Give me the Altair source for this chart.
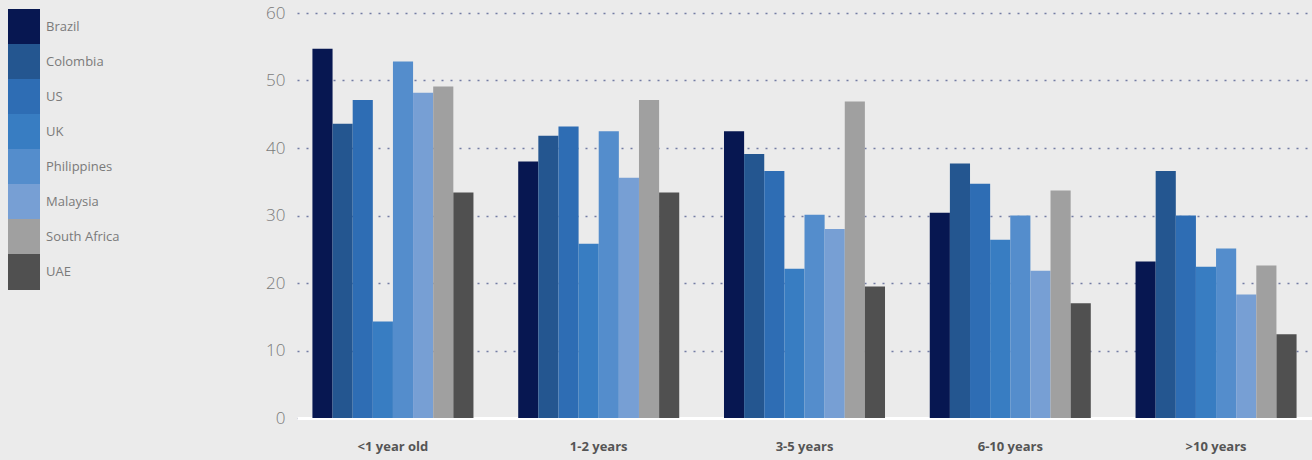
import altair as alt
import pandas as pd

# Age bands and countries
ages = ["<1 year old", "1-2 years", "3-5 years", "6-10 years", ">10 years"]
countries = ["Brazil", "Colombia", "US", "UK", "Philippines", "Malaysia", "South Africa", "UAE"]
colors = ["#071751", "#245690", "#2e6db4", "#387dc2", "#548dcc", "#779fd4", "#a0a0a0", "#505050"]

# Percentages per country, one list per age band (order follows `countries`)
lt1 = [54.7, 43.6, 47.1, 14.3, 52.8, 48.2, 49.1, 33.4]
y1_2 = [38.0, 41.8, 43.2, 25.8, 42.5, 35.6, 47.1, 33.4]
y3_5 = [42.5, 39.1, 36.6, 22.1, 30.1, 28.0, 46.9, 19.5]
y6_10 = [30.4, 37.7, 34.7, 26.4, 30.0, 21.8, 33.7, 17.0]
gt10 = [23.2, 36.6, 30.0, 22.4, 25.1, 18.3, 22.6, 12.4]

series = [lt1, y1_2, y3_5, y6_10, gt10]
rows = []
for age, vals in zip(ages, series):
    for c, v in zip(countries, vals):
        rows.append({"age": age, "country": c, "value": v})
df = pd.DataFrame(rows)

bars = alt.Chart(df).mark_bar(opacity=1).encode(
    x=alt.X(
        "age:N",
        sort=ages,
        title=None,
        scale=alt.Scale(paddingInner=0.2175, paddingOuter=0.075),
        axis=alt.Axis(
            labelAngle=0,
            labelFont="Open Sans",
            labelFontWeight="bold",
            labelFontSize=13,
            labelColor="#555555",
            labelPadding=22,
            ticks=False,
            domain=True,
            domainColor="#ffffff",
            domainWidth=3,
            grid=False,
        ),
    ),
    xOffset=alt.XOffset(
        "country:N", sort=countries, scale=alt.Scale(paddingInner=0, paddingOuter=0)
    ),
    y=alt.Y(
        "value:Q",
        title=None,
        scale=alt.Scale(domain=[0, 60], nice=False, zero=True),
        axis=alt.Axis(
            values=[0, 10, 20, 30, 40, 50, 60],
            labelFont="Open Sans",
            labelFontWeight=300,
            labelFontSize=17,
            labelColor="#7a7a7a",
            labelPadding=12,
            ticks=False,
            domain=False,
            grid=True,
            gridColor="#737ca3",
            gridDash=[2, 7],
            gridWidth=1.5,
        ),
    ),
    color=alt.Color(
        "country:N",
        sort=countries,
        scale=alt.Scale(domain=countries, range=colors),
        legend=alt.Legend(
            title=None,
            orient="none",
            direction="vertical",
            legendX=-287,
            legendY=0,
            # tall swatch blocks stacked with no visible gap
            symbolType="M-1.143,-1.28H1.143V1.28H-1.143Z",
            symbolSize=784,
            symbolStrokeWidth=0,
            symbolOpacity=1,
            rowPadding=-1,
            labelFont="Open Sans",
            labelFontSize=13,
            labelColor="#7a7a7a",
            labelOffset=8,
        ),
    ),
)

chart = bars.properties(
    width=1015,
    height=405,
    background="#ebebeb",
    padding={"left": 297, "top": 13, "right": 0, "bottom": 42},
    autosize=alt.AutoSizeParams(type="none"),
).configure_view(stroke=None)

chart.save("out.html", embed_options={"renderer": "svg", "actions": False})
